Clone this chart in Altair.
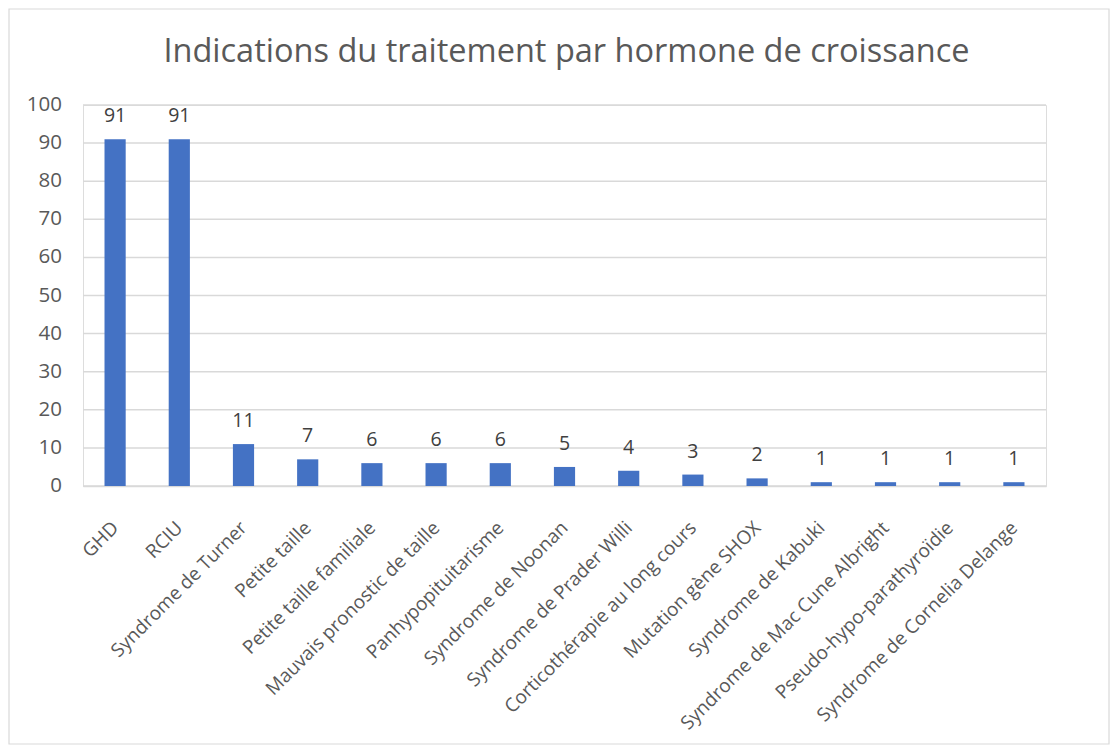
import altair as alt
import pandas as pd

categories = [
    "GHD", "RCIU", "Syndrome de Turner", "Petite taille", "Petite taille familiale",
    "Mauvais pronostic de taille", "Panhypopituitarisme", "Syndrome de Noonan",
    "Syndrome de Prader Willi", "Corticothérapie au long cours", "Mutation gène SHOX",
    "Syndrome de Kabuki", "Syndrome de Mac Cune Albright", "Pseudo-hypo-parathyroïdie",
    "Syndrome de Cornelia Delange",
]
values = [91, 91, 11, 7, 6, 6, 6, 5, 4, 3, 2, 1, 1, 1, 1]
y_ticks = list(range(0, 101, 10))
title_text = ["Indications du traitement par hormone de croissance"]

df = pd.DataFrame({"cat": categories, "val": values})
tdf = pd.DataFrame({"t": title_text})
ydf = pd.DataFrame({"v": y_ticks})

W, H = 963, 381
PL, PT, PR, PB = 75, 97, 65, 260
FONT = "Open Sans"
GRAY = "#595959"

x_axis = alt.Axis(labelAngle=-45, labelFontSize=19, labelColor=GRAY, labelFont=FONT,
                  domainColor="#d9d9d9", domainWidth=1.5, ticks=False, labelPadding=32,
                  labelOffset=-6, labelLimit=500, labelOverlap=False, grid=False)
yscale = alt.Scale(domain=[0, 100], nice=False)
x = alt.X("cat:N", sort=categories, title=None,
          scale=alt.Scale(paddingInner=0.67, paddingOuter=0.335), axis=x_axis)
y = alt.Y("val:Q", title=None, scale=yscale, axis=None)

grid = alt.Chart(ydf).mark_rule(color="#d9d9d9", strokeWidth=1.5).encode(
    y=alt.Y("v:Q", scale=yscale, axis=None), x=alt.value(0), x2=alt.value(W)
)
ylabels = alt.Chart(ydf).mark_text(align="right", baseline="middle", fontSize=20.5, font=FONT, color=GRAY).encode(
    y=alt.Y("v:Q", scale=yscale, axis=None), x=alt.value(-21), text="v:Q"
)

border = alt.Chart(tdf).mark_rect(fill=None, stroke="#d9d9d9", strokeWidth=1.2, clip=False).encode(
    x=alt.value(-74), x2=alt.value(W + PR - 2), y=alt.value(-96), y2=alt.value(H + PB - 2)
)
title = alt.Chart(tdf).mark_text(fontSize=32.5, font=FONT, color=GRAY, baseline="middle", align="center").encode(
    x=alt.value(W / 2 + 2), y=alt.value(-53), text="t:N"
)

bars = alt.Chart(df).mark_bar(color="#4472C4").encode(x=x, y=y)
labels = alt.Chart(df).mark_text(baseline="alphabetic", dy=-17, fontSize=19.5, color="#404040", font=FONT).encode(
    x=x, y=y, text="val:Q"
)

chart = alt.layer(grid, ylabels, bars, labels, border, title).properties(
    width=W, height=H,
    autosize=alt.AutoSizeParams(type="none"),
    padding={"left": PL, "top": PT, "right": PR, "bottom": PB},
).configure_view(stroke=None).configure(background="white")

chart.save("out.html", embed_options={"renderer": "svg", "actions": False})
